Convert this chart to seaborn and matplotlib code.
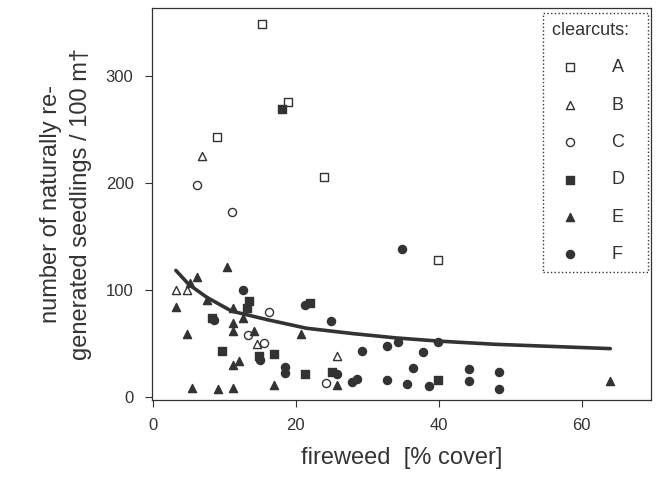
import matplotlib
matplotlib.use('Agg')
import matplotlib.pyplot as plt
import seaborn as sns
import pandas as pd

# fireweed cover (%) and seedlings / 100 m2, one pair of lists per clearcut
a_x = [15.3, 18.9, 8.9, 23.9, 39.9]
a_y = [348, 275, 243, 205, 128]

b_x = [6.8, 3.2, 4.7, 14.5, 25.7]
b_y = [225, 100, 100, 49, 38]

c_x = [6.1, 11.1, 16.2, 13.3, 15.5, 24.2]
c_y = [198, 173, 79, 58, 50, 13]

d_x = [18.1, 13.5, 13.1, 8.3, 9.7, 14.8, 16.9, 21.3, 22.0, 25.0, 39.9]
d_y = [269, 89, 83, 74, 43, 38, 40, 21, 88, 23, 16]

e_x = [6.2, 5.2, 10.4, 3.2, 7.5, 11.2, 12.6, 11.2, 11.2, 14.1, 4.8, 20.7,
       11.2, 12.1, 5.5, 9.1, 11.2, 17.0, 25.7, 64.0]
e_y = [112, 106, 121, 84, 90, 83, 74, 69, 61, 61, 59, 59,
       30, 33, 8, 7, 8, 11, 11, 15]

f_x = [12.6, 21.3, 24.9, 34.9, 29.3, 32.8, 34.3, 37.8, 39.9, 36.4, 44.2, 48.4,
       44.2, 48.4, 32.8, 35.6, 38.6, 27.9, 28.6, 25.8, 18.5, 18.5, 15.0, 8.6]
f_y = [100, 86, 71, 138, 43, 47, 51, 42, 51, 27, 26, 23,
       15, 7, 16, 12, 10, 14, 17, 21, 28, 22, 34, 72]

# fitted curve
fit_x = [3.2, 5, 7.5, 11, 16, 21.5, 28, 34, 40, 48, 56, 64]
fit_y = [118, 105, 93, 80, 72, 64, 59, 55, 52, 49, 47, 45]

clearcuts = ['A', 'B', 'C', 'D', 'E', 'F']
xs = [a_x, b_x, c_x, d_x, e_x, f_x]
ys = [a_y, b_y, c_y, d_y, e_y, f_y]
markers = ['s', '^', 'o', 's', '^', 'o']
filled = [False, False, False, True, True, True]

rows = []
for name, xv, yv in zip(clearcuts, xs, ys):
    for x, y in zip(xv, yv):
        rows.append(dict(clearcut=name, fireweed=x, seedlings=y))
df = pd.DataFrame(rows)
fit = pd.DataFrame(dict(fireweed=fit_x, seedlings=fit_y))

sns.set_theme(style='ticks')
plt.rcParams['font.family'] = ['Liberation Sans', 'DejaVu Sans']
ink = '#333333'

fig = plt.figure(figsize=(6.56, 4.93), dpi=100)
ax = fig.add_axes([0.2311, 0.1886, 0.7613, 0.7951])

sns.lineplot(data=fit, x='fireweed', y='seedlings', ax=ax, color=ink,
             linewidth=2.6, zorder=3)

for name, m, fl in zip(clearcuts, markers, filled):
    sub = df[df.clearcut == name]
    sns.scatterplot(data=sub, x='fireweed', y='seedlings', ax=ax, marker=m,
                    s=75 if m != '^' else 85,
                    facecolor=ink if fl else 'white', edgecolor=ink,
                    linewidth=1.0, label=name, zorder=4)

ax.set_xlim(-0.2, 69.7)
ax.set_ylim(-3, 363)
ax.set_xticks([0, 20, 40, 60])
ax.set_yticks([0, 100, 200, 300])
ax.tick_params(colors=ink, labelsize=12, length=5, width=0.8, pad=8)
for sp in ax.spines.values():
    sp.set_color(ink)
    sp.set_linewidth(0.9)

ax.set_xlabel('fireweed  [% cover]', fontsize=17, color=ink, labelpad=10)
ax.set_ylabel('number of naturally re-\ngenerated seedlings / 100 m\u2020',
              fontsize=17, color=ink, labelpad=10, linespacing=1.45)

handles, labels = ax.get_legend_handles_labels()
for h in handles:
    h.set_sizes([34])
leg = ax.legend(handles, labels, title='clearcuts:  ', loc='upper right',
                bbox_to_anchor=(0.994, 0.988), fontsize=13,
                title_fontsize=13, labelspacing=1.13, handletextpad=1.3,
                borderpad=0.5, fancybox=False, framealpha=1,
                borderaxespad=0)
leg._legend_box.align = 'left'
for t in leg.get_texts():
    t.set_color(ink)
leg.get_title().set_color(ink)
frame = leg.get_frame()
frame.set_edgecolor(ink)
frame.set_linestyle(':')
frame.set_linewidth(1.0)

fig.savefig('out.png', dpi=100, facecolor='white')
